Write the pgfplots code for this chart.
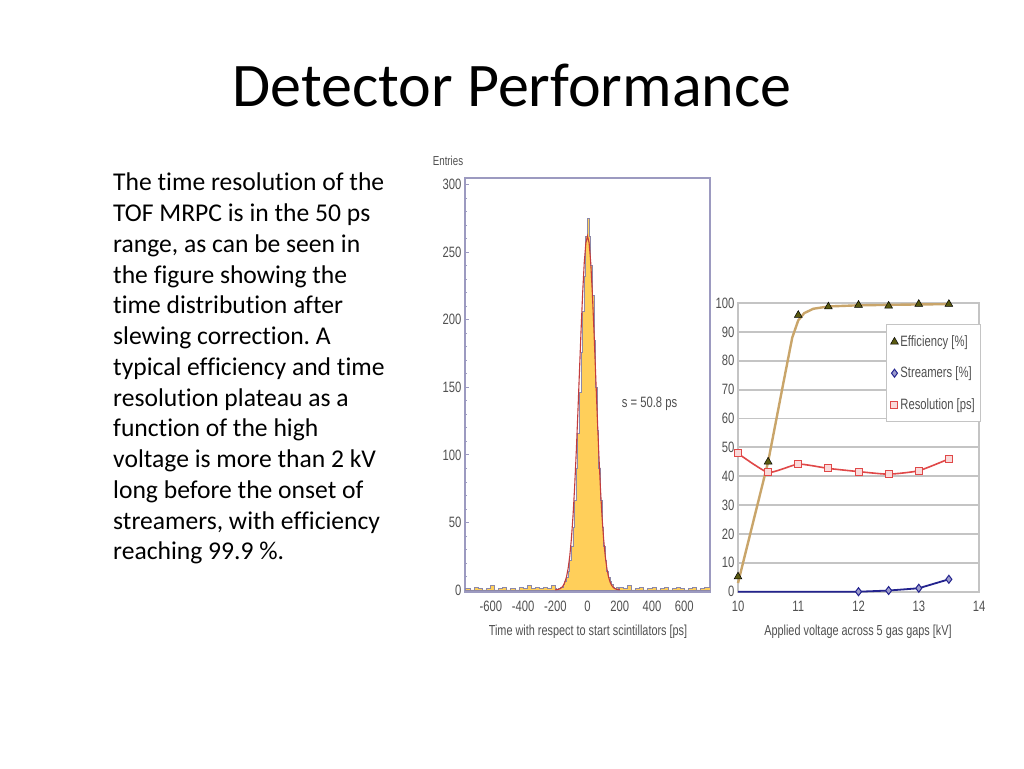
\documentclass[border=0pt]{standalone}
\usepackage{fontspec}
\setmainfont{Carlito}[Ligatures=NoCommon]
\newfontfamily\narrow[FakeStretch=0.75]{Liberation Sans}
\usepackage{pgfplots}
\pgfplotsset{compat=1.18}
\usetikzlibrary{plotmarks}
\frenchspacing

\definecolor{frame}{RGB}{156,154,192}
\definecolor{histline}{RGB}{140,136,168}
\definecolor{histfill}{RGB}{255,207,90}
\definecolor{fitred}{RGB}{196,60,60}
\definecolor{labgrey}{RGB}{80,80,80}
\definecolor{gridgrey}{RGB}{196,196,196}
\definecolor{efftan}{RGB}{201,165,106}
\definecolor{effmark}{RGB}{90,90,16}
\definecolor{streamblue}{RGB}{35,35,142}
\definecolor{resred}{RGB}{224,72,72}

\newcommand{\tickfont}{\narrow\fontsize{15}{15}\selectfont}

\begin{document}
\begin{tikzpicture}
\path[fill=white,use as bounding box] (0pt,0pt) rectangle (1024pt,768pt);

% title
\node[anchor=base, font=\fontsize{62}{70}\selectfont] at (512pt,661pt) {Detector Performance};

% body text, one node per line
\foreach \txt [count=\i from 0] in {
  The time resolution of the,
  TOF MRPC is in the 50 ps,
  {range, as can be seen in},
  the figure showing the,
  time distribution after,
  slewing correction. A,
  typical efficiency and time,
  resolution plateau as a,
  function of the high,
  voltage is more than 2 kV,
  long before the onset of,
  {streamers, with efficiency},
  reaching 99.9 \%.}
  \node[anchor=base west, inner sep=0pt, font=\fontsize{25.6}{30}\selectfont]
    at (113pt,{577pt-\i*30.75pt}) {\txt};

% ---- time distribution ----
\begin{axis}[
  at={(465pt,176pt)}, anchor=south west,
  width=245pt, height=414pt, scale only axis,
  xmin=-760, xmax=760, ymin=-1.5, ymax=305,
  axis line style={draw=frame, line width=1.3pt},
  xtick={-600,-400,...,600},
  ytick={0,50,...,300},
  minor y tick num=4,
  tick align=inside,
  tick style={draw=frame, line width=0.8pt},
  major tick length=4pt, minor tick length=2pt,
  xtick pos=bottom, ytick pos=left,
  ticklabel style={font=\tickfont, text=labgrey},
  xticklabel style={yshift=-5pt},
  /pgf/number format/assume math mode=true,
]
\addplot[const plot mark left, draw=histline, line width=0.9pt, fill=histfill] coordinates {
(-760,1) (-750,1) (-725,0) (-700,2) (-675,1) (-650,0) (-625,1) (-600,3) (-575,0)
(-550,1) (-525,2) (-500,0) (-475,1) (-450,0) (-425,2) (-400,1) (-375,3) (-350,1)
(-325,2) (-300,1) (-275,2) (-250,1) (-225,3)
(-200,1) (-190,0) (-180,1) (-170,2) (-160,2) (-150,4) (-140,6) (-130,9) (-120,14)
(-110,22) (-100,32) (-90,46) (-80,66) (-70,90) (-60,116) (-50,146) (-40,176)
(-30,206) (-20,232) (-10,262) (0,275) (10,262) (20,240) (30,218) (40,185)
(50,150) (60,118) (70,90) (80,66) (90,46) (100,32) (110,22) (120,14) (130,9)
(140,6) (150,4) (160,2) (170,1) (180,2) (190,0)
(200,2) (225,1) (250,3) (275,0) (300,1) (325,2) (350,0) (375,1) (400,2) (425,0)
(450,1) (475,2) (500,0) (525,1) (550,2) (575,1) (600,0) (625,1) (650,2) (675,0)
(700,1) (725,2) (750,2) (760,2)
} \closedcycle;
\addplot[fitred, line width=1.1pt] coordinates {
(-200,0.1) (-180,0.5) (-170,0.97) (-160,1.84) (-150,3.35) (-140,5.9) (-130,9.9)
(-120,16.1) (-110,25.1) (-100,37.7) (-90,54.5) (-80,75.8) (-70,101.4) (-60,130.4)
(-50,161.4) (-40,192) (-30,220) (-20,242.5) (-10,257) (0,262) (10,257) (20,242.5)
(30,220) (40,192) (50,161.4) (60,130.4) (70,101.4) (80,75.8) (90,54.5) (100,37.7)
(110,25.1) (120,16.1) (130,9.9) (140,5.9) (150,3.35) (160,1.84) (170,0.97)
(180,0.5) (200,0.1)
};
\node[font=\tickfont, text=labgrey] at (axis cs:385,138) {s = 50.8 ps};
\end{axis}
\node[font=\narrow\fontsize{13}{13}\selectfont, text=labgrey] at (448pt,607pt) {Entries};
\node[font=\narrow\fontsize{14.5}{14.5}\selectfont, text=labgrey] at (588pt,136pt) {Time with respect to start scintillators [ps]};

% ---- efficiency plateau ----
\begin{axis}[
  at={(738pt,176.3pt)}, anchor=south west,
  width=241pt, height=288.7pt, scale only axis,
  xmin=10, xmax=14, ymin=0, ymax=100,
  xtick={10,11,12,13,14},
  ytick={0,10,...,100},
  ymajorgrids,
  grid style={draw=gridgrey, line width=1.8pt},
  axis line style={draw=gridgrey, line width=1.8pt},
  major tick length=0pt,
  ticklabel style={font=\tickfont, text=labgrey},
  xticklabel style={yshift=-6pt},
  /pgf/number format/assume math mode=true,
  legend style={at={(0.614,0.927)}, anchor=north west,
    draw=gridgrey, line width=1.2pt, fill=white,
    font=\narrow\fontsize{15}{15}\selectfont, text=labgrey,
    row sep=15pt, inner xsep=4pt, inner ysep=9pt},
  legend cell align=left,
  clip=false,
]
\addplot[efftan, line width=2.4pt, forget plot] coordinates {
(10,3) (10.25,24) (10.5,45) (10.75,72) (10.9,88) (11,94) (11.1,96.5) (11.25,98)
(11.5,98.8) (12,99.2) (13,99.5) (13.5,99.6)
};
\addplot[streamblue, line width=1.8pt, forget plot] coordinates {
(10,0) (11,0) (12,0) (12.5,0.4) (13,1.2) (13.5,4.3)
};
\addplot[resred, line width=1.6pt, smooth, tension=0.3, forget plot] coordinates {
(10,47.9) (10.5,41.3) (11,44.2) (11.5,42.7) (12,41.6) (12.5,40.7) (13,41.9) (13.5,46)
};
\addplot[only marks, mark=triangle*, mark size=4.5pt, mark options={fill=effmark, draw=black, line width=0.5pt}] coordinates {
(10,5.2) (10.5,45) (11,95.8) (11.5,98.7) (12,99.3) (12.5,99) (13,99.6) (13.5,99.6)
};
\addlegendentry{Efficiency [\%]}
\addplot[only marks, mark=diamond*, mark size=4pt, mark options={fill=streamblue!45, draw=streamblue, line width=1pt}] coordinates {
(12,0) (12.5,0.4) (13,1.2) (13.5,4.3)
};
\addlegendentry{Streamers [\%]}
\addplot[only marks, mark=square*, mark size=3.5pt, mark options={fill=resred!20, draw=resred, line width=1pt}] coordinates {
(10,47.9) (10.5,41.3) (11,44.2) (11.5,42.7) (12,41.6) (12.5,40.7) (13,41.9) (13.5,46)
};
\addlegendentry{Resolution [ps]}
\end{axis}
\node[font=\narrow\fontsize{14.5}{14.5}\selectfont, text=labgrey] at (858pt,136pt) {Applied voltage across 5 gas gaps [kV]};
\end{tikzpicture}
\end{document}
